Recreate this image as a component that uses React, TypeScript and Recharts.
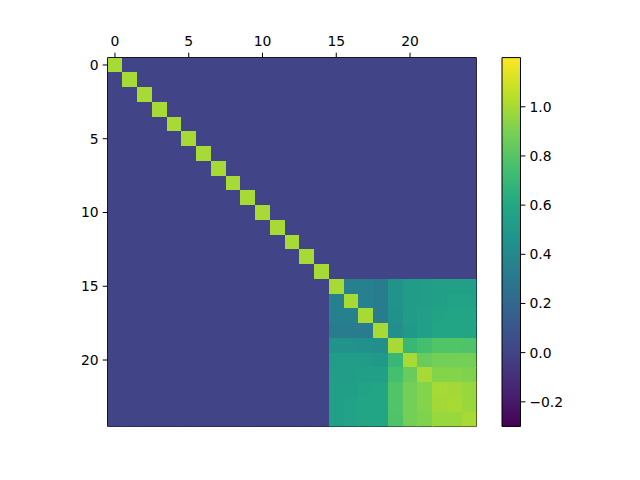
import { ScatterChart, Scatter, XAxis, YAxis, ReferenceArea } from 'recharts';

// matrix indices (rows and columns)
const indices = Array.from({ length: 25 }, (_, i) => i);
const axisTicks = [0, 5, 10, 15, 20];
const colorbarTicks = [-0.2, 0, 0.2, 0.4, 0.6, 0.8, 1.0];
const colorRange = [-0.3, 1.2];

const diagonalValue = 1.0;
const offBlockValue = 0.0;
const blockStart = 15;
// lower-right 10x10 block (rows/cols 15..24)
const blockValues = [
  [1.0, 0.35, 0.35, 0.32, 0.46, 0.52, 0.53, 0.55, 0.55, 0.55],
  [0.35, 1.0, 0.35, 0.32, 0.46, 0.52, 0.53, 0.55, 0.56, 0.56],
  [0.35, 0.35, 1.0, 0.32, 0.45, 0.52, 0.55, 0.57, 0.58, 0.58],
  [0.32, 0.32, 0.32, 1.0, 0.44, 0.5, 0.54, 0.58, 0.58, 0.58],
  [0.46, 0.46, 0.45, 0.44, 1.0, 0.7, 0.75, 0.79, 0.79, 0.78],
  [0.52, 0.52, 0.52, 0.5, 0.7, 1.0, 0.85, 0.88, 0.88, 0.88],
  [0.53, 0.53, 0.55, 0.54, 0.75, 0.85, 1.0, 0.92, 0.92, 0.91],
  [0.55, 0.55, 0.57, 0.58, 0.79, 0.88, 0.92, 1.0, 0.99, 0.97],
  [0.55, 0.56, 0.58, 0.58, 0.79, 0.88, 0.92, 0.99, 1.0, 0.97],
  [0.55, 0.56, 0.58, 0.58, 0.78, 0.88, 0.91, 0.97, 0.97, 1.0],
];

const VIRIDIS = ['#440154', '#482475', '#414487', '#355f8d', '#2a788e', '#21918c', '#22a884', '#44bf70', '#7ad151', '#bddf26', '#fde725'];

function hex(c: string) {
  return [1, 3, 5].map((i) => parseInt(c.slice(i, i + 2), 16));
}

function viridis(v: number) {
  let t = (v - colorRange[0]) / (colorRange[1] - colorRange[0]);
  t = Math.max(0, Math.min(1, t));
  const p = t * (VIRIDIS.length - 1);
  const i = Math.min(Math.floor(p), VIRIDIS.length - 2);
  const f = p - i;
  const a = hex(VIRIDIS[i]);
  const b = hex(VIRIDIS[i + 1]);
  const c = a.map((x, k) => Math.round(x + (b[k] - x) * f));
  return `rgb(${c[0]},${c[1]},${c[2]})`;
}

function valueAt(r: number, c: number) {
  if (r === c) return diagonalValue;
  if (r >= blockStart && c >= blockStart) return blockValues[r - blockStart][c - blockStart];
  return offBlockValue;
}

const cells = indices.flatMap((r) => indices.map((c) => ({ col: c, row: r, value: valueAt(r, c) })));

const W = 640;
const H = 480;
const PLOT = { left: 107.6, top: 57.6, right: 476.4, bottom: 426.4 };
const cellW = (PLOT.right - PLOT.left) / indices.length;
const cellH = (PLOT.bottom - PLOT.top) / indices.length;
const FONT = "'DejaVu Sans', sans-serif";
const tickStyle = { fill: '#000', fontSize: 13.9, fontFamily: FONT };
const domain: [number, number] = [-0.5, 24.5];

const CellShape = (props: any) => {
  const { cx, cy, payload } = props;
  const fill = viridis(payload.value);
  return (
    <rect
      x={cx - cellW / 2}
      y={cy - cellH / 2}
      width={cellW + 0.6}
      height={cellH + 0.6}
      fill={fill}
      fillOpacity={1}
      opacity={1}
      stroke="none"
      shapeRendering="crispEdges"
    />
  );
};

export default function App() {
  return (
    <div style={{ position: 'absolute', left: 0, top: 0, width: W, height: H, background: '#fff' }}>
      <div style={{ position: 'absolute', left: 0, top: 0 }}>
        <ScatterChart
          width={W}
          height={H}
          margin={{ left: PLOT.left - 40, top: PLOT.top - 30, right: W - PLOT.right - 5, bottom: H - PLOT.bottom - 10 }}
        >
          <XAxis
            xAxisId="top"
            orientation="top"
            type="number"
            dataKey="col"
            domain={domain}
            ticks={axisTicks}
            allowDataOverflow
            height={30}
            tickSize={4.9}
            tickMargin={7}
            tick={tickStyle}
            stroke="#000"
            interval={0}
          />
          <XAxis
            xAxisId="bottom"
            orientation="bottom"
            type="number"
            domain={domain}
            ticks={axisTicks}
            allowDataOverflow
            height={10}
            tickSize={4.9}
            tick={false}
            stroke="#000"
          />
          <YAxis
            yAxisId="left"
            orientation="left"
            type="number"
            dataKey="row"
            domain={domain}
            ticks={axisTicks}
            reversed
            allowDataOverflow
            width={40}
            tickSize={4.9}
            tickMargin={4}
            tick={tickStyle}
            stroke="#000"
            interval={0}
          />
          <YAxis
            yAxisId="right"
            orientation="right"
            type="number"
            domain={domain}
            allowDataOverflow
            width={5}
            tick={false}
            tickLine={false}
            stroke="#000"
          />
          <Scatter
            xAxisId="top"
            yAxisId="left"
            data={cells}
            shape={CellShape}
            fillOpacity={1}
            isAnimationActive={false}
          />
        </ScatterChart>
      </div>
      <div style={{ position: 'absolute', left: 0, top: 0 }}>
        <ScatterChart
          width={W}
          height={H}
          margin={{ left: 502, top: PLOT.top, right: W - 520.5 - 60, bottom: H - PLOT.bottom }}
        >
          <defs>
            <linearGradient id="viridisBar" x1="0" y1="1" x2="0" y2="0">
              {VIRIDIS.map((c, i) => (
                <stop key={i} offset={`${(i / (VIRIDIS.length - 1)) * 100}%`} stopColor={c} />
              ))}
            </linearGradient>
          </defs>
          <XAxis type="number" dataKey="x" domain={[0, 1]} hide />
          <YAxis
            orientation="right"
            type="number"
            dataKey="y"
            domain={colorRange}
            ticks={colorbarTicks}
            allowDataOverflow
            width={60}
            tickSize={4.9}
            tickMargin={4}
            tick={tickStyle}
            axisLine={false}
            stroke="#000"
            interval={0}
            tickFormatter={(v: number) => v.toFixed(1).replace('-', '\u2212')}
          />
          <ReferenceArea
            x1={0}
            x2={1}
            y1={colorRange[0]}
            y2={colorRange[1]}
            fill="url(#viridisBar)"
            fillOpacity={1}
            stroke="#000"
            strokeWidth={1}
            ifOverflow="visible"
          />
          <Scatter data={[{ x: 0, y: 0 }]} fill="none" isAnimationActive={false} />
        </ScatterChart>
      </div>
    </div>
  );
}
